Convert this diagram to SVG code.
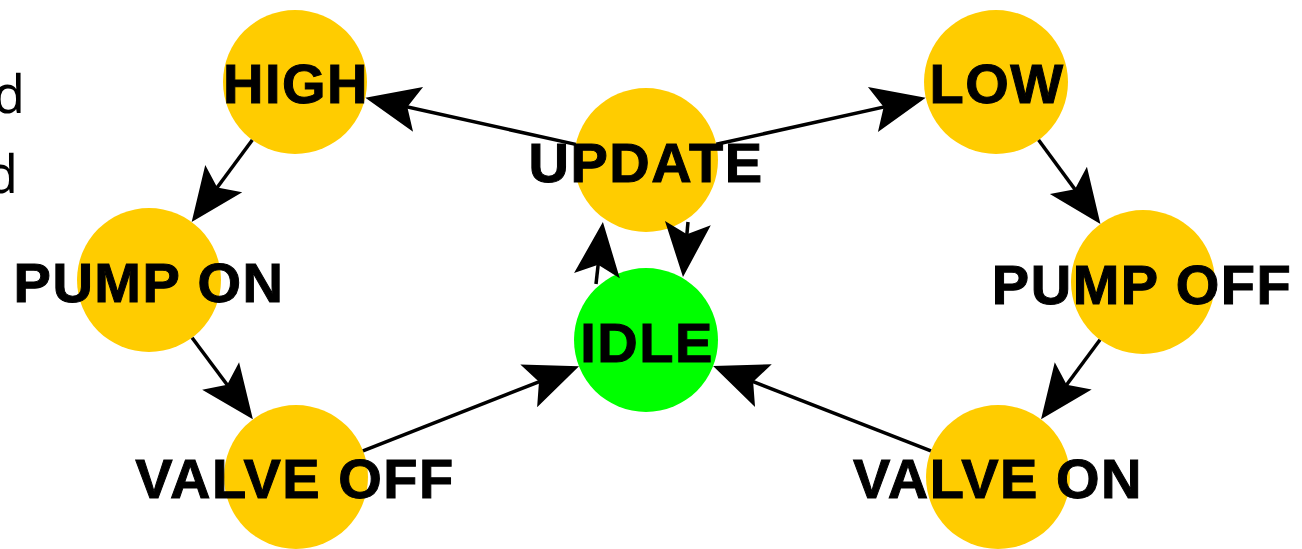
<svg xmlns="http://www.w3.org/2000/svg" width="1302" height="549" viewBox="0 0 1302 549">
  <style>
    .state { fill: #FFCC00; }
    .idle { fill: #00FF00; }
    .lbl { font-family: "Liberation Sans", Arial, sans-serif; font-weight: bold; font-size: 56px; letter-spacing: 1.5px; fill: #000; stroke: #000; stroke-width: 1; text-anchor: middle; }
    .edge { stroke: #000; stroke-width: 3.5; fill: none; marker-end: url(#arr); }
    .frag { font-family: "Noto Sans", "DejaVu Sans", sans-serif; font-size: 52px; fill: #000; text-anchor: end; }
  </style>
  <defs>
    <marker id="arr" markerUnits="userSpaceOnUse" markerWidth="60" markerHeight="52" viewBox="-46 -26 60 52" refX="0" refY="0" orient="auto">
      <path d="M10,0 L-44,-23 L-33,0 L-44,23 Z" fill="#000"/>
    </marker>
  </defs>
  <rect width="1302" height="549" fill="#fff"/>

  <g id="fragments">
    <text class="frag" x="25" y="113">d</text>
    <text class="frag" x="18" y="193">d</text>
  </g>

  <g id="nodes-circles">
    <circle id="c-high" class="state" cx="295" cy="82" r="72"/>
    <circle id="c-low" class="state" cx="996" cy="82" r="72"/>
    <circle id="c-update" class="state" cx="646" cy="160" r="72"/>
    <circle id="c-pumpon" class="state" cx="149" cy="280" r="72"/>
    <circle id="c-pumpoff" class="state" cx="1143" cy="282" r="72"/>
    <circle id="c-idle" class="idle" cx="646" cy="340" r="72"/>
    <circle id="c-valveoff" class="state" cx="296" cy="477" r="72"/>
    <circle id="c-valveon" class="state" cx="998" cy="477" r="72"/>
  </g>

  <g id="connectors">
    <line class="edge" x1="575.7" y1="144.4" x2="375.1" y2="99.8"/>
    <line class="edge" x1="716.3" y1="144.3" x2="915.9" y2="99.9"/>
    <line class="edge" x1="252.3" y1="140" x2="197.6" y2="214"/>
    <line class="edge" x1="192.1" y1="337.7" x2="246.9" y2="411.3"/>
    <line class="edge" x1="363" y1="450.8" x2="569.7" y2="369.8"/>
    <line class="edge" x1="930.9" y1="450.9" x2="722.4" y2="369.7"/>
    <line class="edge" x1="1038.6" y1="140" x2="1094.5" y2="215.9"/>
    <line class="edge" x1="1100" y1="339.8" x2="1047" y2="411.2"/>
    <line class="edge" x1="596" y1="284" x2="601.8" y2="231.9"/>
    <line class="edge" x1="688" y1="222" x2="683.9" y2="267"/>
  </g>

  <g id="node-high"><text class="lbl" x="296" y="103">HIGH</text></g>
  <g id="node-low"><text class="lbl" x="997" y="103">LOW</text></g>
  <g id="node-update"><text class="lbl" x="646" y="182">UPDATE</text></g>
  <g id="node-pumpon"><text class="lbl" x="149" y="302">PUMP ON</text></g>
  <g id="node-pumpoff"><text class="lbl" x="1142" y="304">PUMP OFF</text></g>
  <g id="node-idle"><text class="lbl" x="647" y="362">IDLE</text></g>
  <g id="node-valveoff"><text class="lbl" x="295" y="498">VALVE OFF</text></g>
  <g id="node-valveon"><text class="lbl" x="998" y="498">VALVE ON</text></g>
</svg>
